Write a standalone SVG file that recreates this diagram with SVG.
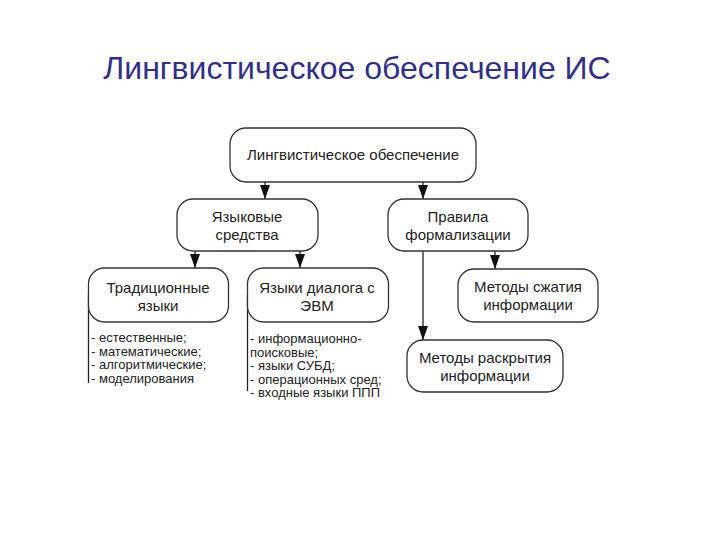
<svg xmlns="http://www.w3.org/2000/svg" width="720" height="540" viewBox="0 0 720 540">
<style>
.box{fill:#fff;stroke:#333;stroke-width:1.3}
.t{font-family:"Liberation Sans",Arial,sans-serif;font-size:15px;fill:#222;text-anchor:middle}
.l{font-family:"Liberation Sans",Arial,sans-serif;font-size:13px;fill:#222}
.c{stroke:#222;stroke-width:1.3;fill:none}
</style>
<defs>
<marker id="ah" markerWidth="14" markerHeight="10" refX="10" refY="5" orient="auto" markerUnits="userSpaceOnUse" viewBox="0 0 10 10" preserveAspectRatio="none">
<path d="M0,0 L10,5 L0,10 Z" fill="#111"/>
</marker>
</defs>
<rect width="720" height="540" fill="#fff"/>
<text x="357" y="79" font-family="'Liberation Sans',Arial,sans-serif" font-size="32" fill="#30308a" text-anchor="middle">Лингвистическое обеспечение ИС</text>
<g id="connectors">
<line class="c" x1="265" y1="182" x2="265" y2="199" marker-end="url(#ah)"/>
<line class="c" x1="423" y1="182" x2="423" y2="199" marker-end="url(#ah)"/>
<line class="c" x1="195" y1="251" x2="195" y2="268" marker-end="url(#ah)"/>
<line class="c" x1="300" y1="251" x2="300" y2="268" marker-end="url(#ah)"/>
<line class="c" x1="495" y1="251" x2="495" y2="269" marker-end="url(#ah)"/>
<line class="c" x1="423" y1="251" x2="423" y2="340" marker-end="url(#ah)"/>
<line class="c" x1="88.5" y1="295" x2="88.5" y2="383"/>
<line class="c" x1="247.5" y1="295" x2="247.5" y2="391"/>
</g>
<g id="root">
<rect class="box" x="230" y="128" width="246" height="54" rx="16"/>
<text class="t" x="353" y="160">Лингвистическое обеспечение</text>
</g>
<g id="yazyk">
<rect class="box" x="177" y="199" width="141" height="52" rx="16"/>
<text class="t" x="247" y="222">Языковые</text>
<text class="t" x="247" y="240">средства</text>
</g>
<g id="pravila">
<rect class="box" x="388" y="199" width="140" height="52" rx="16"/>
<text class="t" x="458" y="222">Правила</text>
<text class="t" x="458" y="240">формализации</text>
</g>
<g id="trad">
<rect class="box" x="88.5" y="268" width="140" height="54" rx="16"/>
<text class="t" x="158" y="293">Традиционные</text>
<text class="t" x="158" y="311">языки</text>
<text class="l" x="91" y="342">- естественные;</text>
<text class="l" x="91" y="355.5">- математические;</text>
<text class="l" x="91" y="369">- алгоритмические;</text>
<text class="l" x="91" y="382.5">- моделирования</text>
</g>
<g id="dialog">
<rect class="box" x="247.5" y="268" width="141" height="54" rx="16"/>
<text class="t" x="317" y="293">Языки диалога с</text>
<text class="t" x="317" y="311">ЭВМ</text>
<text class="l" x="250" y="343">- информационно-</text>
<text class="l" x="250" y="356.5">поисковые;</text>
<text class="l" x="250" y="370">- языки СУБД;</text>
<text class="l" x="250" y="383.5">- операционных сред;</text>
<text class="l" x="250" y="397">- входные языки ППП</text>
</g>
<g id="szhatie">
<rect class="box" x="458" y="269" width="140" height="53" rx="16"/>
<text class="t" x="528" y="292">Методы сжатия</text>
<text class="t" x="528" y="310">информации</text>
</g>
<g id="raskrytie">
<rect class="box" x="407" y="340" width="156" height="52" rx="16"/>
<text class="t" x="485" y="363">Методы раскрытия</text>
<text class="t" x="485" y="381">информации</text>
</g>
</svg>
